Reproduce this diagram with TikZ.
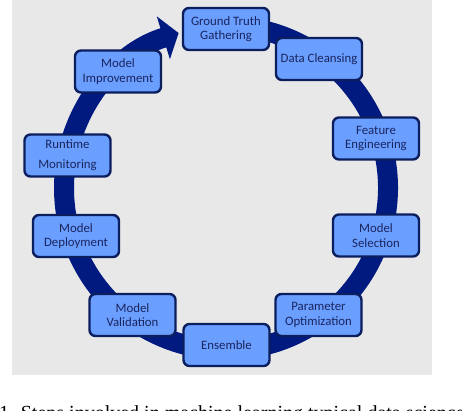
\documentclass[tikz,border=0pt]{standalone}
\usepackage{fontspec}
\setmainfont{Liberation Serif}
\newfontfamily\stepfont{Carlito}
\usepackage{tikz}
\usetikzlibrary{arrows.meta}
\definecolor{ringblue}{HTML}{001A80}
\definecolor{boxfill}{HTML}{6A9EFF}
\definecolor{boxline}{HTML}{0B1E5E}
\definecolor{boxtext}{HTML}{1A255E}
\definecolor{panel}{HTML}{E8E8E8}
\tikzset{
  stepbox/.style={draw=boxline, line width=2.4, fill=boxfill, rounded corners=6,
    minimum width=86, minimum height=42, inner sep=1, align=center,
    text=boxtext, font=\stepfont\fontsize{12.8}{14.5}\selectfont},
  cycle ring/.style={draw=ringblue, line width=20, -{Triangle[length=16,width=44]}}
}

\begin{document}
\begin{tikzpicture}[x=1pt,y=1pt,yscale=-1,xscale=1]
\useasboundingbox (0,0) rectangle (462,410);

%Shape: Rectangle [panel]
\fill [panel] (12,0) rectangle (432,375);

%Shape: Arc [ring]
\draw [cycle ring] (226,188) ++(-85:162) arc (-85:253:162);

% Step Nodes
\node [stepbox] (gather) at (226,29) {Ground Truth\\Gathering};
\node [stepbox] (cleanse) at (319,59) {Data Cleansing};
\node [stepbox] (feature) at (376,138.5) {Feature\\Engineering};
\node [stepbox] (select) at (376,235.5) {Model\\Selection};
\node [stepbox] (optim) at (318.5,315) {Parameter\\Optimization};
\node [stepbox] (ensemble) at (226.5,345) {Ensemble};
\node [stepbox] (valid) at (132.5,315) {Model\\Validation};
\node [stepbox] (deploy) at (76,236) {Model\\Deployment};
\node [stepbox] (monitor) at (67.5,155.5) {Runtime\\[5.5pt]Monitoring};
\node [stepbox] (improve) at (118,71.5) {Model\\Improvement};

% Text Node [caption, cut by the page edge]
\begin{scope}
\clip (0,0) rectangle (462,410);
\node [anchor=base west, inner sep=0, font=\fontsize{20}{24}\selectfont] (caption) at (-1,419) {1. Steps involved in machine learning typical data science and};
\end{scope}

\end{tikzpicture}
\end{document}
